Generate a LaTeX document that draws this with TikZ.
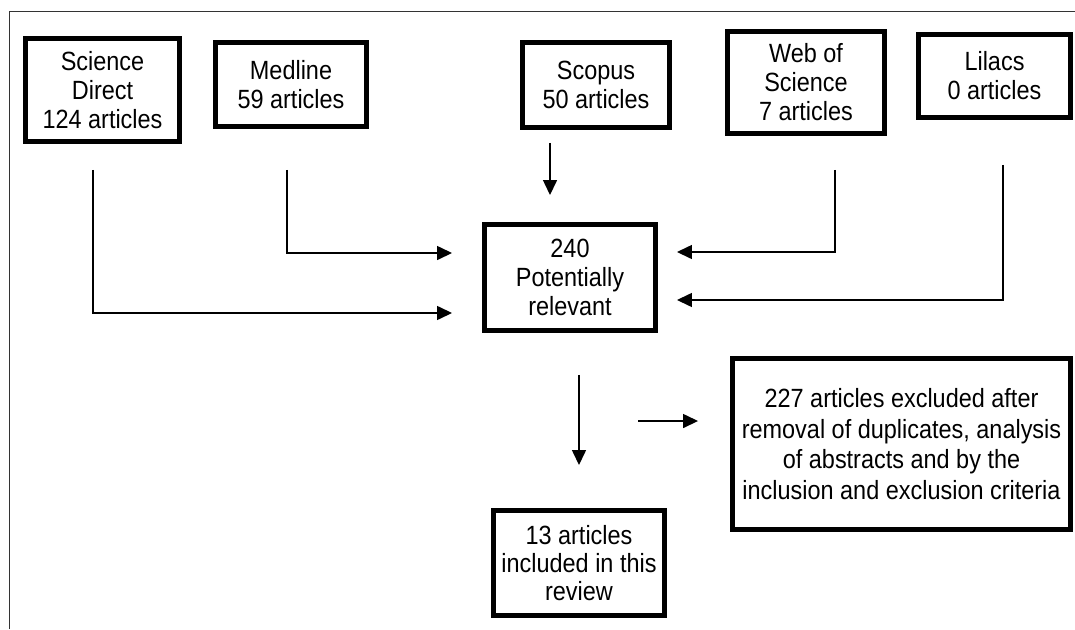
\documentclass[tikz,border=0pt]{standalone}
\usepackage{fontspec}
\setmainfont[FakeStretch=0.89]{Liberation Sans}
\usepackage{tikz}
\usetikzlibrary{arrows.meta, positioning, calc}

\begin{document}
\begin{tikzpicture}[
    x=0.02cm, y=-0.02cm,
    box/.style={rectangle, draw, line width=0.1cm, align=center, fill=white, inner sep=0pt,
                font=\fontsize{15}{16.5}\selectfont},
    link/.style={-{Triangle[length=0.3cm, width=0.28cm]}, line width=0.03cm, color=black},
    frame/.style={line width=0.02cm, color=black!80}
]
    \useasboundingbox (0,0) rectangle (1075,629);

    % --- Outer frame (left and top only) ---
    \draw[frame] (9,629) -- (9,11) -- (1075,11);

    % --- Databases ---
    \node[box, minimum width=3.08cm, minimum height=2.06cm] (sci-direct) at (102.5,90) {Science\\Direct\\124 articles};
    \node[box, minimum width=3.02cm, minimum height=1.68cm] (medline) at (291,84.5) {Medline\\59 articles};
    \node[box, minimum width=2.94cm, minimum height=1.70cm] (scopus) at (596,85) {Scopus\\50 articles};
    \node[box, minimum width=3.14cm, minimum height=2.04cm] (wos) at (806,82.5) {Web of\\Science\\7 articles};
    \node[box, minimum width=3.04cm, minimum height=1.66cm] (lilacs) at (994.5,76) {Lilacs\\0 articles};

    % --- Screening ---
    \node[box, minimum width=3.42cm, minimum height=2.12cm] (relevant) at (570,277.5) {240\\Potentially\\relevant};
    \node[box, minimum width=6.76cm, minimum height=3.42cm, font=\fontsize{15}{17.3}\selectfont] (excluded) at (901.5,444)
        {227 articles excluded after\\removal of duplicates, analysis\\of abstracts and by the\\inclusion and exclusion criteria};
    \node[box, minimum width=3.42cm, minimum height=2.10cm, font=\fontsize{15}{15.8}\selectfont] (included) at (579,563)
        {13 articles\\included in this\\review};

    % --- Connections ---
    % left side
    \draw[link, shorten <=0.52cm, shorten >=0.6cm] ([xshift=-0.19cm]sci-direct.south) |- ([yshift=-0.71cm]relevant.west);
    \draw[link, shorten <=0.82cm, shorten >=0.6cm] ([xshift=-0.08cm]medline.south) |- ([yshift=0.49cm]relevant.west);
    \draw[link, shorten <=0.26cm, shorten >=0.54cm] ([xshift=-0.92cm]scopus.south) -- ([xshift=-0.92cm]scopus.south |- relevant.north);

    % right side
    \draw[link, shorten <=0.68cm, shorten >=0.38cm] ([xshift=0.58cm]wos.south) |- ([yshift=0.51cm]relevant.east);
    \draw[link, shorten <=0.9cm, shorten >=0.38cm] ([xshift=0.17cm]lilacs.south) |- ([yshift=-0.45cm]relevant.east);

    % screening result
    \draw[link, shorten <=0.84cm, shorten >=0.86cm] (included.north |- relevant.south) -- (included.north);
    \coordinate (excl-from) at ([xshift=-1.84cm, yshift=0.46cm]excluded.west);
    \draw[link, shorten >=0.64cm] (excl-from) -- ([yshift=0.46cm]excluded.west);

\end{tikzpicture}
\end{document}
